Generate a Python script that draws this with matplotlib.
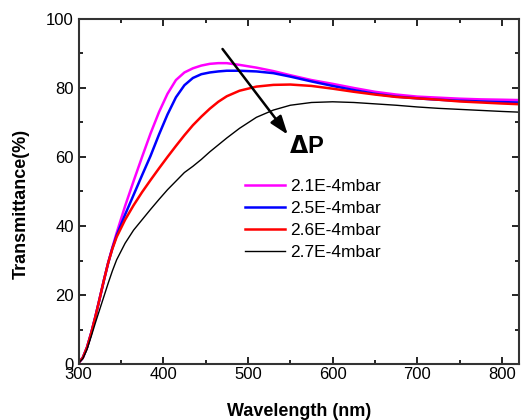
import matplotlib
matplotlib.use("Agg")
import matplotlib.pyplot as plt
from matplotlib.ticker import MultipleLocator

plt.rcParams['font.family'] = ['Liberation Sans', 'DejaVu Sans']

wavelength = [300, 305, 310, 315, 320, 325, 330, 335, 340, 345, 355, 365, 375, 385, 395,
              405, 415, 425, 435, 445, 455, 465, 475, 490, 510, 530, 550, 575, 600, 625,
              650, 675, 700, 725, 750, 775, 800, 820]

t_21 = [0.3, 1.8, 4.8, 9.0, 13.8, 19.0, 24.3, 29.3, 33.8, 38.0, 45.8, 53.0, 60.0, 66.8, 73.0,
        78.3, 82.3, 84.5, 85.7, 86.5, 87.0, 87.2, 87.2, 86.7, 85.9, 84.9, 83.7, 82.3, 81.2,
        80.0, 78.9, 78.1, 77.5, 77.2, 76.9, 76.7, 76.6, 76.5]
t_25 = [0.3, 1.8, 4.8, 9.0, 13.8, 19.0, 24.3, 29.3, 33.6, 37.3, 43.3, 49.0, 54.7, 60.3, 66.5,
        72.3, 77.3, 80.8, 82.9, 84.0, 84.5, 84.8, 85.0, 85.0, 84.8, 84.3, 83.3, 81.9, 80.6,
        79.4, 78.3, 77.5, 77.0, 76.6, 76.3, 76.1, 75.9, 75.8]
t_26 = [0.3, 1.8, 4.8, 9.0, 13.8, 19.0, 24.3, 29.3, 33.4, 36.8, 41.8, 46.0, 49.8, 53.3, 56.7,
        60.0, 63.2, 66.3, 69.2, 71.7, 74.0, 76.0, 77.6, 79.2, 80.4, 80.9, 81.0, 80.6, 79.8,
        78.9, 78.1, 77.4, 77.0, 76.6, 76.1, 75.8, 75.5, 75.3]
t_27 = [0.3, 1.5, 4.2, 8.0, 12.0, 15.8, 19.6, 23.4, 27.0, 30.2, 35.0, 38.8, 41.8, 44.8, 47.7,
        50.5, 53.0, 55.5, 57.3, 59.3, 61.5, 63.5, 65.5, 68.3, 71.5, 73.6, 75.0, 75.8, 76.0,
        75.8, 75.4, 75.0, 74.5, 74.1, 73.8, 73.5, 73.2, 73.0]

fig = plt.figure(figsize=(5.22, 4.2), dpi=100)
ax = fig.add_axes([0.1504, 0.1333, 0.8439, 0.8215])

ax.plot(wavelength, t_21, color='#ff00ff', lw=1.8, label='2.1E-4mbar')
ax.plot(wavelength, t_25, color='#0000ff', lw=1.8, label='2.5E-4mbar')
ax.plot(wavelength, t_26, color='#ff0000', lw=1.8, label='2.6E-4mbar')
ax.plot(wavelength, t_27, color='black', lw=1.0, label='2.7E-4mbar')

ax.annotate('', xy=(547, 66.5), xytext=(470, 91.3),
            arrowprops=dict(arrowstyle='-|>,head_length=0.7,head_width=0.25', color='black',
                            lw=1.8, mutation_scale=16, shrinkA=0, shrinkB=0))
ax.text(548, 63, r'$\mathbf{\Delta}$P', fontsize=17, fontweight='bold', va='center', ha='left')

ax.set_xlim(300, 820)
ax.set_ylim(0, 100)
ax.xaxis.set_major_locator(MultipleLocator(100))
ax.xaxis.set_minor_locator(MultipleLocator(50))
ax.yaxis.set_major_locator(MultipleLocator(20))
ax.yaxis.set_minor_locator(MultipleLocator(10))
ax.tick_params(which='both', direction='in', top=True, right=True, width=1.2)
ax.tick_params(which='major', length=5, labelsize=12)
ax.tick_params(which='minor', length=3)
ax.tick_params(axis='x', which='both', labeltop=False, pad=2)
ax.tick_params(axis='y', which='both', labelright=False)
for s in ax.spines.values():
    s.set_linewidth(1.5)
    s.set_color('#333333')

ax.set_xlabel('Wavelength (nm)', fontsize=13, fontweight='bold', labelpad=15)
ax.set_ylabel('Transmittance(%)', fontsize=13, fontweight='bold')
ax.yaxis.set_label_coords(-0.11, 0.464)

ax.legend(loc='upper left', bbox_to_anchor=(0.378, 0.537), frameon=False, fontsize=12.5,
          handlelength=2.3, handletextpad=0.3, labelspacing=0.4, borderpad=0,
          borderaxespad=0)

fig.savefig('out.png', dpi=100)
